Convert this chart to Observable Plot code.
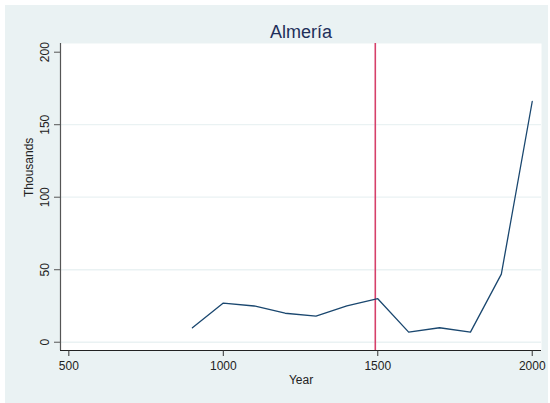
<!DOCTYPE html>
<html><head><meta charset="utf-8">
<script src="https://cdn.jsdelivr.net/npm/d3@7"></script>
<script src="https://cdn.jsdelivr.net/npm/@observablehq/plot@0.6"></script>
<style>
body{margin:0;background:#fff;}
#c{position:absolute;left:5px;top:5px;width:543px;height:398px;background:#eaf2f3;}
</style>
</head><body><div id="c"></div>
<script>
const years = [900, 1000, 1100, 1200, 1300, 1400, 1500, 1600, 1700, 1800, 1900, 2000];
const thousands = [10, 27, 25, 20, 18, 25, 30, 7, 10, 7, 47, 166];
const yTicks = [0, 50, 100, 150, 200];
const gridTicks = [0, 50, 100, 150];
const xTicks = [500, 1000, 1500, 2000];
const eventYear = [1492];
const title = "Almería";
const xLabel = "Year";
const yLabel = "Thousands";

const data = years.map((y, i) => ({year: y, value: thousands[i]}));

const chart = Plot.plot({
  width: 543, height: 398,
  marginLeft: 55, marginRight: 7, marginTop: 38, marginBottom: 53,
  style: {background: "transparent", fontFamily: "'Liberation Sans', Arial, sans-serif", fontSize: "12px", color: "#222"},
  x: {domain: [473, 2030], axis: null},
  y: {domain: [-5.7, 206], axis: null},
  marks: [
    Plot.frame({fill: "white", stroke: null}),
    Plot.ruleY(gridTicks, {stroke: "#eaf2f3", strokeWidth: 1.3}),
    Plot.ruleX(eventYear, {stroke: "#d6406a", strokeWidth: 1.6}),
    Plot.line(data, {x: "year", y: "value", stroke: "#1a476f", strokeWidth: 1.3}),
    Plot.ruleX([473], {stroke: "#555", strokeWidth: 1.2}),
    Plot.ruleY([-5.7], {stroke: "#222", strokeWidth: 1.2}),
    Plot.axisY(yTicks, {anchor: "left", tickSize: 6, tickPadding: 6, tickRotate: -90, tickFormat: d => String(d), label: null, stroke: "#555", fill: "#222", fontSize: 12}),
    Plot.axisX(xTicks, {anchor: "bottom", tickSize: 6, tickPadding: 5, tickFormat: d => String(d), label: null, stroke: "#333", fill: "#222", fontSize: 12}),
    Plot.text([yLabel], {frameAnchor: "left", dx: -31, rotate: -90, fontSize: 12, fill: "#222"}),
    Plot.text([xLabel], {frameAnchor: "bottom", dy: 33, fontSize: 12, fill: "#222"}),
    Plot.text([title], {frameAnchor: "top", lineAnchor: "middle", dy: -11, fontSize: 18, fill: "#1e2f5a"})
  ]
});
document.getElementById("c").appendChild(chart);
</script>
</body></html>
